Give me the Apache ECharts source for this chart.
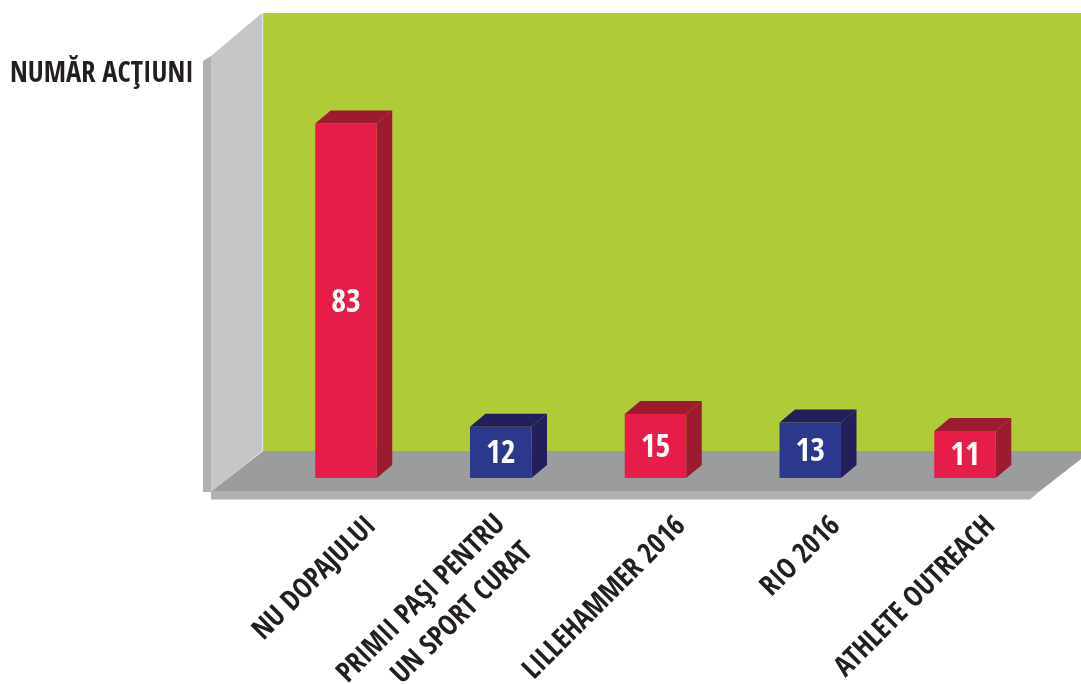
<!DOCTYPE html>
<html><head><meta charset="utf-8">
<style>html,body{margin:0;padding:0;background:#fff}#c{width:1081px;height:684px}</style>
<script src="https://cdn.jsdelivr.net/npm/echarts@6/dist/echarts.min.js"></script></head>
<body><div id="c"></div>
<script>
const categories = ['NU DOPAJULUI', 'PRIMII PAŞI PENTRU\nUN SPORT CURAT', 'LILLEHAMMER 2016', 'RIO 2016', 'ATHLETE OUTREACH'];
const values = [83, 12, 15, 13, 11];
const frontColors = ['#e51d48', '#2b388c', '#e51d48', '#2b388c', '#e51d48'];
const sideColors = ['#9d1b2e', '#221f5b', '#9d1b2e', '#221f5b', '#9d1b2e'];
const yTitle = 'NUMĂR ACŢIUNI';
const FONT = '"Open Sans Condensed","Roboto Condensed",sans-serif';
const chart = echarts.init(document.getElementById('c'), null, {renderer: 'canvas'});
const poly = (points, fill) => ({type: 'polygon', shape: {points}, style: {fill}, silent: true});
const DX = 15.5, DY = 13, BW = 61.5;
chart.setOption({
  animation: false,
  backgroundColor: '#fff',
  title: {text: yTitle, left: 5, top: 56, textStyle: {fontFamily: FONT, fontWeight: 'bold', fontSize: 28.4, color: '#231f20'}},
  grid: [
    {left: 268.6, width: 773.8, top: 51, height: 427, outerBoundsMode: 'none'},
    {left: 294.6, width: 773.8, top: 51, height: 427, outerBoundsMode: 'none'}
  ],
  xAxis: [
    {type: 'category', gridIndex: 0, data: categories, axisLine: {show: false}, axisTick: {show: false}, axisLabel: {show: false}},
    {type: 'category', gridIndex: 1,
     data: categories.map(c => c.includes('\n') ? {value: c, textStyle: {padding: [0, 17, 0, 0]}} : c),
     axisLine: {show: false}, axisTick: {show: false},
     axisLabel: {interval: 0, rotate: 45, margin: 44, align: 'right', verticalAlign: 'middle', lineHeight: 39,
       fontFamily: FONT, fontWeight: 'bold', fontSize: 28.4, color: '#231f20'}}
  ],
  yAxis: [
    {type: 'value', gridIndex: 0, min: 0, max: 100, show: false},
    {type: 'value', gridIndex: 1, min: 0, max: 100, show: false}
  ],
  graphic: [
    {type: 'rect', shape: {x: 263, y: 13, width: 818, height: 438}, style: {fill: '#afcb37'}, silent: true},
    poly([[203, 61], [211, 56], [211, 492], [203, 492]], '#b0b1b3'),
    poly([[211, 56], [262, 13], [262, 451], [211, 492]], '#c5c6c8'),
    {type: 'rect', shape: {x: 262, y: 13, width: 1.2, height: 438}, style: {fill: '#e6e7e8'}, silent: true},
    poly([[212, 491], [263, 451], [1081, 451], [1081, 459], [1040, 491]], '#9b9c9e'),
    poly([[211, 491], [1040, 491], [1030, 499.5], [211, 499.5]], '#aeafb1')
  ],
  series: [{
    type: 'custom',
    xAxisIndex: 0, yAxisIndex: 0,
    clip: false,
    data: values,
    renderItem(params, api) {
      const i = api.value(0), top = api.coord([i, api.value(1)]), base = api.coord([i, 0]);
      const l = top[0] - BW / 2, r = top[0] + BW / 2, t = top[1], b = base[1];
      return {type: 'group', children: [
        poly([[l, t], [r, t], [r + DX, t - DY], [l + DX, t - DY]], sideColors[i]),
        poly([[r, t], [r + DX, t - DY], [r + DX, b - DY], [r, b]], sideColors[i]),
        {type: 'rect', shape: {x: l, y: t, width: BW, height: b - t}, style: {fill: frontColors[i]}},
        {type: 'text', style: {text: String(api.value(1)), x: top[0], y: (t + b) / 2 + 2.5, align: 'center', verticalAlign: 'middle',
          fill: '#fff', fontFamily: FONT, fontWeight: 'bold', fontSize: 32}}
      ]};
    },
    encode: {x: 0, y: 1}
  }]
});
</script></body></html>
